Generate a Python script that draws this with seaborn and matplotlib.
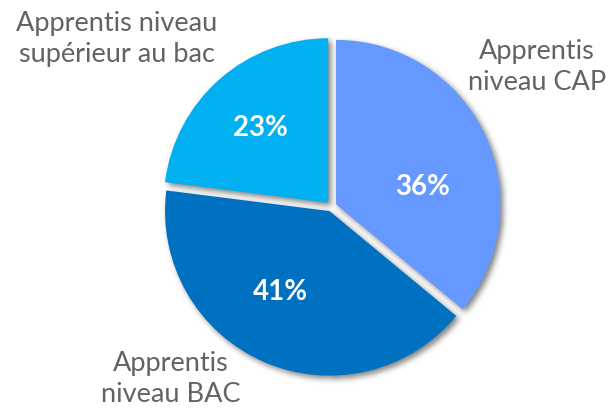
import numpy as np
import matplotlib
matplotlib.use("Agg")
import matplotlib.pyplot as plt
import seaborn as sns

# Répartition des apprentis par niveau de diplôme préparé
categories = ["Apprentis\nniveau CAP", "Apprentis\nniveau BAC", "Apprentis niveau\nsupérieur au bac"]
shares = [36, 41, 23]
colors = ["#6699FF", "#0070C0", "#00B0F0"]

sns.set_theme(style="white")
plt.rcParams["font.family"] = ["Lato", "DejaVu Sans"]

W, H = 611, 410
fig = plt.figure(figsize=(W / 100, H / 100), dpi=100)
fig.patch.set_facecolor("white")
ax = fig.add_axes([0, 0, 1, 1])

R = 164.5
center = (331.5, H - 207.5)
wedges, _ = ax.pie(
    shares,
    colors=colors,
    startangle=90,
    counterclock=False,
    radius=R,
    center=center,
    explode=[5.0] * len(shares),
    wedgeprops=dict(linewidth=0, zorder=2),
)

ax.set_xlim(0, W)
ax.set_ylim(0, H)
ax.set_aspect("equal")
ax.axis("off")

# Soft drop shadow under the slices, offset down-right
fig.canvas.draw()
yy, xx = np.mgrid[0:H, 0:W]
pts = np.column_stack([xx.ravel() + 0.5, yy.ravel() + 0.5])
offset = np.array([3.0, -3.0])
mask = np.zeros(H * W)
for w in wedges:
    path = w.get_transform().transform_path(w.get_path())
    mask = np.maximum(mask, path.contains_points(pts - offset).astype(float))
mask = mask.reshape(H, W)

sigma = 3.0
k = np.arange(-10, 11)
kern = np.exp(-0.5 * (k / sigma) ** 2)
kern /= kern.sum()
mask = np.apply_along_axis(lambda r: np.convolve(r, kern, mode="same"), 1, mask)
mask = np.apply_along_axis(lambda c: np.convolve(c, kern, mode="same"), 0, mask)

shadow = np.zeros((H, W, 4))
shadow[..., 3] = 0.5 * mask
ax.imshow(shadow, origin="lower", extent=(0, W, 0, H), zorder=1, interpolation="nearest")
ax.set_xlim(0, W)
ax.set_ylim(0, H)

# Percentage labels inside the slices
pct_pos = [(423, H - 187), (280, H - 292), (260, H - 128)]
for (x, y), v in zip(pct_pos, shares):
    ax.text(x, y, f"{v}%", color="white", fontsize=20, fontweight="bold",
            ha="center", va="center", zorder=3)

# Category labels outside the pie
cat_pos = [(537, H - 67), (171, H - 379), (117, H - 39)]
for (x, y), lab in zip(cat_pos, categories):
    ax.text(x, y, lab, color="#636363", fontsize=19.5, ha="center", va="center",
            linespacing=1.3, zorder=3)

fig.savefig("out.png", dpi=100, facecolor="white")
